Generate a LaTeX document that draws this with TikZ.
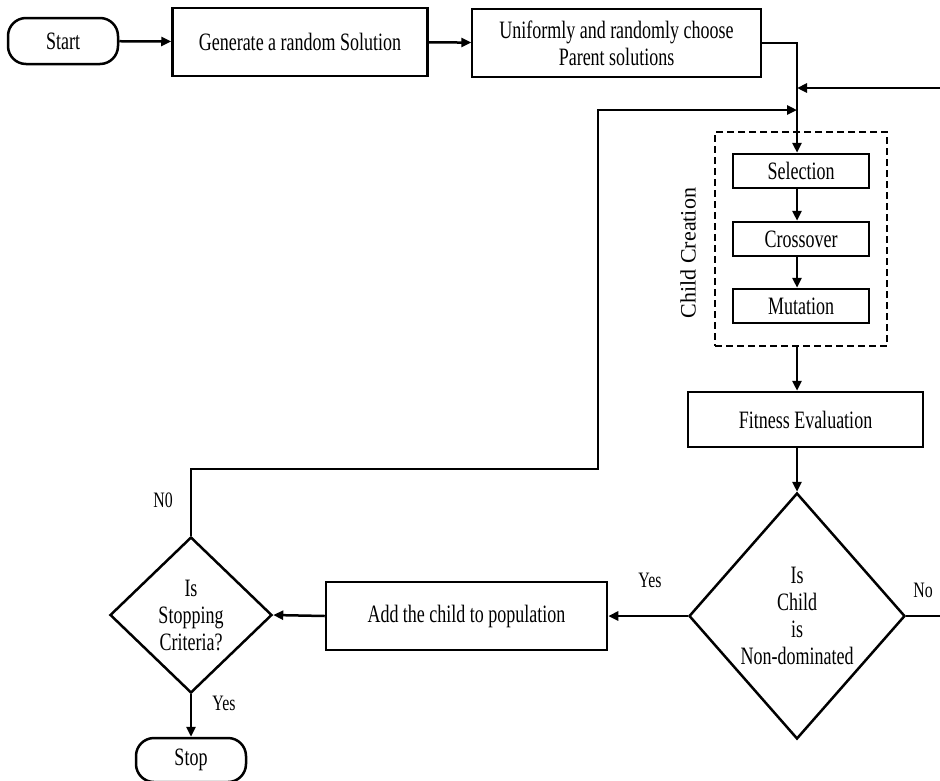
\documentclass[tikz,border=0pt]{standalone}
\usepackage{fontspec}
\setmainfont[FakeStretch=0.72]{Liberation Serif}
\newfontfamily\plainserif{Liberation Serif}
\usetikzlibrary{shapes.geometric,arrows.meta}
\begin{document}
\begin{tikzpicture}[x=1pt,y=-1pt,
  every node/.style={font=\fontsize{25}{27}\selectfont, align=center, inner sep=0pt},
  box/.style={draw, line width=2.5pt, rectangle},
  thinbox/.style={draw, line width=1.3pt, rectangle},
  term/.style={draw, line width=2.5pt, rectangle, rounded corners=18pt},
  decision/.style={draw, line width=2.5pt, diamond},
  lbl/.style={font=\fontsize{22}{24}\selectfont},
  conn/.style={line width=2.5pt},
  arr/.style={line width=2.5pt, -{Triangle[length=10pt,width=9pt]}}
]
\path[use as bounding box] (0,0) rectangle (940,780);

% nodes
\node[term, minimum width=110pt, minimum height=46pt] (start) at (63,41) {Start};
\node[box, minimum width=255pt, minimum height=68pt] (gen) at (300,42) {Generate a random Solution};
\node[thinbox, minimum width=289pt, minimum height=68pt] (uni) at (616.5,43) {Uniformly and randomly choose\\Parent solutions};
\node[draw, line width=2.5pt, dashed, dash pattern=on 7pt off 4pt, minimum width=172pt, minimum height=214pt] (cc) at (801,239) {};
\node[box, minimum width=136pt, minimum height=34pt] (sel) at (801,171) {Selection};
\node[box, minimum width=136pt, minimum height=34pt] (cro) at (801,239) {Crossover};
\node[box, minimum width=136pt, minimum height=34pt] (mut) at (801,306) {Mutation};
\node[font=\plainserif\fontsize{22}{24}\selectfont, rotate=90] (cclabel) at (688,253) {Child Creation};
\node[box, minimum width=235pt, minimum height=55pt] (fit) at (805.5,419.5) {Fitness Evaluation};
\node[decision, minimum width=216pt, minimum height=246pt, label={center:Is\\Child\\is\\Non-dominated}] (dec) at (797,616) {};
\node[box, minimum width=281pt, minimum height=68pt] (add) at (466.5,616) {Add the child to population};
\node[decision, minimum width=162pt, minimum height=156pt, label={center:Is\\Stopping\\Criteria?}] (stopq) at (191,615) {};
\node[term, minimum width=110pt, minimum height=44pt] (stop) at (191,760) {Stop};

% labels
\node[lbl] (lno0) at (163,500) {N0};
\node[lbl] (lyes1) at (224,703) {Yes};
\node[lbl] (lyes2) at (650,580) {Yes};
\node[lbl] (lno) at (923,590) {No};

% coordinates
\coordinate (sp) at (797,0);
\coordinate (rin) at (940,88);
\coordinate (rout) at (940,616);
\coordinate (loopx) at (598,469);

% connectors
\draw[arr] (start) -- (gen);
\draw[arr] (gen) -- (uni);
\draw[arr] (uni.east) -- (uni.east -| sp) -- (sel.north -| sp);
\draw[arr] (rin) -- (rin -| sp);
\draw[arr] (sel.south -| sp) -- (cro.north -| sp);
\draw[arr] (cro.south -| sp) -- (mut.north -| sp);
\draw[arr] (cc.south -| sp) -- (fit.north -| sp);
\draw[arr] (fit.south -| sp) -- (dec.north);
\draw[conn] (dec.east) -- (rout);
\draw[arr] (dec.west) -- (add.east);
\draw[arr] (add.west) -- (stopq.east);
\draw[arr] (stopq.north) -- (stopq.north |- loopx) -- (loopx) -- (loopx |- 0,110) -- (sp |- 0,110);
\draw[arr] (stopq.south) -- (stop.north);
\end{tikzpicture}
\end{document}
